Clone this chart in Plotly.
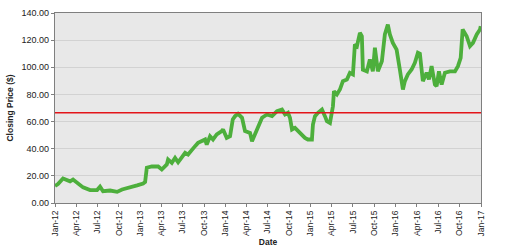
import pandas as pd
import plotly.graph_objects as go

# decimal year of each reading, and closing price ($)
year_frac = [2012.000, 2012.035, 2012.094, 2012.141, 2012.176, 2012.211, 2012.270, 2012.329,
             2012.411, 2012.493, 2012.528, 2012.563, 2012.646, 2012.728, 2012.786, 2012.880,
             2012.962, 2013.033, 2013.056, 2013.076, 2013.135, 2013.209, 2013.252, 2013.311,
             2013.326, 2013.370, 2013.408, 2013.444, 2013.487, 2013.526, 2013.561, 2013.604,
             2013.643, 2013.678, 2013.722, 2013.761, 2013.780, 2013.819, 2013.854, 2013.898,
             2013.957, 2013.972, 2014.015, 2014.054, 2014.086, 2014.113, 2014.148, 2014.195,
             2014.230, 2014.289, 2014.312, 2014.347, 2014.383, 2014.430, 2014.488, 2014.547,
             2014.606, 2014.664, 2014.700, 2014.735, 2014.758, 2014.782, 2014.817, 2014.852,
             2014.899, 2014.934, 2014.969, 2015.016, 2015.028, 2015.052, 2015.087, 2015.134,
             2015.169, 2015.192, 2015.228, 2015.263, 2015.275, 2015.310, 2015.345, 2015.380,
             2015.427, 2015.462, 2015.498, 2015.521, 2015.545, 2015.580, 2015.603, 2015.615,
             2015.662, 2015.697, 2015.732, 2015.756, 2015.791, 2015.838, 2015.873, 2015.908,
             2015.932, 2015.967, 2016.011, 2016.026, 2016.049, 2016.085, 2016.108, 2016.143,
             2016.187, 2016.225, 2016.261, 2016.284, 2016.304, 2016.319, 2016.363, 2016.390,
             2016.421, 2016.460, 2016.480, 2016.507, 2016.539, 2016.577, 2016.636, 2016.695,
             2016.730, 2016.762, 2016.785, 2016.832, 2016.871, 2016.906, 2016.950, 2016.988,
             2016.997]
price = [12.5, 14, 18, 16.5, 16, 17.3, 14.5, 11.5,
         9.5, 9.5, 12, 8.7, 9.2, 8.2, 10, 11.4,
         13, 14.4, 15.5, 26, 27, 26.9, 24.7, 28.4,
         32, 29.6, 33.3, 30, 33.3, 37, 35.7, 39.4,
         41.9, 44.3, 45.5, 46.8, 43, 49.2, 46.8, 50.5,
         52.9, 54.2, 48, 49.2, 61.5, 64, 65.7, 62.8,
         53, 51.7, 45.5, 50.5, 56.6, 62.8, 65.2, 64,
         67.7, 68.9, 65.2, 66.5, 62.8, 54.2, 55.4, 53,
         50.5, 48, 46.8, 46.8, 57.8, 64, 66.5, 68.9,
         64, 60.3, 59, 71.3, 82.4, 80, 83.6, 89.8,
         91, 95.9, 94.7, 116.8, 115.6, 125.4, 122.9, 98.2,
         97, 105.7, 97, 114.4, 97, 104.5, 124.2, 131.5,
         124.2, 118, 113, 108, 98.4, 83.6, 89.8, 94.7,
         98.4, 103.3, 110.7, 110, 93.4, 89.8, 96, 91,
         100.8, 87.3, 86, 97, 87.3, 96, 97, 97,
         100.8, 107, 127.9, 122.9, 115.6, 118, 124.2, 127.9,
         130.3]
reference_price = 66.5
x_start, x_end = "2012-01-01", "2017-01-01"
y_ticks = [0, 20, 40, 60, 80, 100, 120, 140]

def to_date(t):
    y = int(t)
    start = pd.Timestamp(year=y, month=1, day=1)
    length = (pd.Timestamp(year=y + 1, month=1, day=1) - start).days
    return start + pd.Timedelta(days=(t - y) * length)

dates = [to_date(t) for t in year_frac]

font = "Arial, Liberation Sans, sans-serif"
fig = go.Figure()
fig.add_trace(go.Scatter(x=dates, y=price, mode="lines",
                         line=dict(color="#4DAF3C", width=3.8), showlegend=False))
fig.add_trace(go.Scatter(x=[x_start, x_end], y=[reference_price, reference_price], mode="lines",
                         line=dict(color="#E3151A", width=1.6), showlegend=False))

fig.update_layout(
    width=506, height=247,
    margin=dict(l=55, r=25, t=13, b=44),
    paper_bgcolor="white", plot_bgcolor="#E8E8E8",
    font=dict(family=font, size=8, color="#222222"),
)
fig.update_xaxes(
    range=[x_start, x_end], type="date", dtick="M3", tick0="2012-01-01",
    tickformat="%b-%y", tickangle=-90, tickfont=dict(size=8.5), automargin=False,
    showgrid=False, showline=True, linecolor="#7F7F7F", linewidth=1.2, mirror=True,
    ticks="outside", ticklen=3, tickcolor="#7F7F7F",
    title=dict(text="<b>Date</b>", font=dict(size=8.5), standoff=4),
)
fig.update_yaxes(
    range=[0, 140], tickvals=y_ticks, tickformat=".2f", tickfont=dict(size=9), automargin=False,
    showgrid=True, gridcolor="#D2D2D2", gridwidth=1,
    showline=True, linecolor="#7F7F7F", linewidth=1.2, mirror=True,
    ticks="outside", ticklen=3, tickcolor="#7F7F7F", zeroline=False,
    title=dict(text="<b>Closing Price ($)</b>", font=dict(size=8.5), standoff=6),
)
fig.write_html("out.html")
